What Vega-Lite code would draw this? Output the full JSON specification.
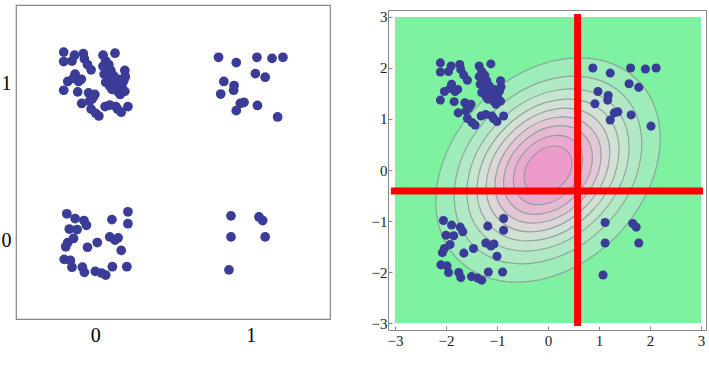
{
"$schema": "https://vega.github.io/schema/vega-lite/v6.json",
"background": "white",
"padding": {"left": 0, "top": 4, "right": 0, "bottom": 0},
"autosize": {"type": "pad"},
"config": {"view": {"stroke": null}, "axis": {"labelFont": "Liberation Serif", "grid": false}},
"spacing": 58,
"bounds": "flush",
"datasets": {
"left": [
{"x":-0.203,"y":1.200},{"x":-0.203,"y":1.140},{"x":-0.150,"y":1.143},{"x":-0.133,"y":1.180},{"x":-0.077,"y":1.190},{"x":-0.070,"y":1.157},{"x":-0.050,"y":1.120},{"x":-0.027,"y":1.087},{"x":0.050,"y":1.180},{"x":0.067,"y":1.143},{"x":0.087,"y":1.120},{"x":0.127,"y":1.193},{"x":0.080,"y":1.100},{"x":0.100,"y":1.083},{"x":0.190,"y":1.083},{"x":0.057,"y":1.060},{"x":0.093,"y":1.043},{"x":0.193,"y":1.043},{"x":0.183,"y":1.017},{"x":0.170,"y":0.983},{"x":-0.177,"y":1.013},{"x":-0.140,"y":1.033},{"x":-0.130,"y":1.060},{"x":-0.090,"y":1.027},{"x":-0.107,"y":1.013},{"x":0.067,"y":1.007},{"x":0.093,"y":0.983},{"x":0.117,"y":1.000},{"x":0.143,"y":0.977},{"x":-0.203,"y":0.957},{"x":-0.113,"y":0.947},{"x":-0.043,"y":0.940},{"x":-0.003,"y":0.930},{"x":-0.020,"y":0.903},{"x":0.143,"y":0.950},{"x":0.160,"y":0.930},{"x":0.190,"y":0.950},{"x":0.107,"y":0.963},{"x":-0.087,"y":0.873},{"x":-0.037,"y":0.887},{"x":-0.027,"y":0.837},{"x":0.003,"y":0.810},{"x":0.023,"y":0.793},{"x":0.063,"y":0.853},{"x":0.093,"y":0.863},{"x":0.133,"y":0.853},{"x":0.143,"y":0.837},{"x":0.167,"y":0.817},{"x":0.210,"y":0.853},{"x":0.050,"y":1.110},{"x":0.117,"y":1.050},{"x":0.150,"y":1.027},{"x":-0.013,"y":0.913},
{"x":-0.183,"y":0.170},{"x":-0.130,"y":0.140},{"x":-0.073,"y":0.127},{"x":-0.057,"y":0.097},{"x":0.107,"y":0.133},{"x":0.210,"y":0.183},{"x":0.210,"y":0.107},{"x":-0.167,"y":0.073},{"x":-0.117,"y":0.070},{"x":-0.140,"y":0.013},{"x":-0.177,"y":-0.013},{"x":-0.190,"y":-0.040},{"x":-0.050,"y":-0.043},{"x":0.013,"y":-0.013},{"x":0.093,"y":0.023},{"x":0.127,"y":0.003},{"x":0.147,"y":0.017},{"x":0.167,"y":-0.063},{"x":-0.200,"y":-0.120},{"x":-0.160,"y":-0.127},{"x":-0.150,"y":-0.170},{"x":-0.083,"y":-0.170},{"x":-0.070,"y":-0.203},{"x":0.000,"y":-0.197},{"x":0.040,"y":-0.207},{"x":0.067,"y":-0.220},{"x":0.110,"y":-0.167},{"x":0.203,"y":-0.167},
{"x":0.793,"y":1.167},{"x":0.907,"y":1.133},{"x":1.040,"y":1.167},{"x":1.137,"y":1.160},{"x":1.207,"y":1.167},{"x":1.030,"y":1.063},{"x":1.093,"y":1.040},{"x":0.827,"y":1.013},{"x":0.893,"y":0.987},{"x":0.890,"y":0.957},{"x":0.807,"y":0.933},{"x":0.933,"y":0.873},{"x":0.957,"y":0.880},{"x":1.043,"y":0.860},{"x":0.907,"y":0.827},{"x":1.173,"y":0.787},
{"x":0.873,"y":0.157},{"x":1.053,"y":0.150},{"x":1.077,"y":0.127},{"x":0.873,"y":0.023},{"x":1.093,"y":0.023},{"x":0.860,"y":-0.187}
],
"right": [
{"x":-2.11,"y":2.10},{"x":-2.11,"y":1.92},{"x":-1.95,"y":1.93},{"x":-1.90,"y":2.04},{"x":-1.73,"y":2.07},{"x":-1.71,"y":1.97},{"x":-1.65,"y":1.86},{"x":-1.58,"y":1.76},{"x":-1.35,"y":2.04},{"x":-1.30,"y":1.93},{"x":-1.24,"y":1.86},{"x":-1.12,"y":2.08},{"x":-1.26,"y":1.80},{"x":-1.20,"y":1.75},{"x":-0.93,"y":1.75},{"x":-1.33,"y":1.68},{"x":-1.22,"y":1.63},{"x":-0.92,"y":1.63},{"x":-0.95,"y":1.55},{"x":-0.99,"y":1.45},{"x":-2.03,"y":1.54},{"x":-1.92,"y":1.60},{"x":-1.89,"y":1.68},{"x":-1.77,"y":1.58},{"x":-1.82,"y":1.54},{"x":-1.30,"y":1.52},{"x":-1.22,"y":1.45},{"x":-1.15,"y":1.50},{"x":-1.07,"y":1.43},{"x":-2.11,"y":1.37},{"x":-1.84,"y":1.34},{"x":-1.63,"y":1.32},{"x":-1.51,"y":1.29},{"x":-1.56,"y":1.21},{"x":-1.07,"y":1.35},{"x":-1.02,"y":1.29},{"x":-0.93,"y":1.35},{"x":-1.18,"y":1.39},{"x":-1.76,"y":1.12},{"x":-1.61,"y":1.16},{"x":-1.58,"y":1.01},{"x":-1.49,"y":0.93},{"x":-1.43,"y":0.88},{"x":-1.31,"y":1.06},{"x":-1.22,"y":1.09},{"x":-1.10,"y":1.06},{"x":-1.07,"y":1.01},{"x":-1.00,"y":0.95},{"x":-0.87,"y":1.06},{"x":-1.35,"y":1.83},{"x":-1.15,"y":1.65},{"x":-1.05,"y":1.58},{"x":-1.54,"y":1.24},
{"x":-2.05,"y":-0.99},{"x":-1.89,"y":-1.08},{"x":-1.72,"y":-1.12},{"x":-1.67,"y":-1.21},{"x":-1.18,"y":-1.10},{"x":-0.87,"y":-0.95},{"x":-0.87,"y":-1.18},{"x":-2.00,"y":-1.28},{"x":-1.85,"y":-1.29},{"x":-1.92,"y":-1.46},{"x":-2.03,"y":-1.54},{"x":-2.07,"y":-1.62},{"x":-1.65,"y":-1.63},{"x":-1.46,"y":-1.54},{"x":-1.22,"y":-1.43},{"x":-1.12,"y":-1.49},{"x":-1.06,"y":-1.45},{"x":-1.00,"y":-1.69},{"x":-2.10,"y":-1.86},{"x":-1.98,"y":-1.88},{"x":-1.95,"y":-2.01},{"x":-1.75,"y":-2.01},{"x":-1.71,"y":-2.11},{"x":-1.50,"y":-2.09},{"x":-1.38,"y":-2.12},{"x":-1.30,"y":-2.16},{"x":-1.17,"y":-2.00},{"x":-0.89,"y":-2.00},
{"x":0.88,"y":2.00},{"x":1.22,"y":1.90},{"x":1.62,"y":2.00},{"x":1.91,"y":1.98},{"x":2.12,"y":2.00},{"x":1.59,"y":1.69},{"x":1.78,"y":1.62},{"x":0.98,"y":1.54},{"x":1.18,"y":1.46},{"x":1.17,"y":1.37},{"x":0.92,"y":1.30},{"x":1.30,"y":1.12},{"x":1.37,"y":1.14},{"x":1.63,"y":1.08},{"x":1.22,"y":0.98},{"x":2.02,"y":0.86},
{"x":1.12,"y":-1.03},{"x":1.66,"y":-1.05},{"x":1.73,"y":-1.12},{"x":1.12,"y":-1.43},{"x":1.78,"y":-1.43},{"x":1.08,"y":-2.06}
],
"levels": [
{"level":1,"r":2.2},{"level":2,"r":1.84},{"level":3,"r":1.59},{"level":4,"r":1.39},{"level":5,"r":1.21},{"level":6,"r":1.04},{"level":7,"r":0.87},{"level":8,"r":0.68},{"level":9,"r":0.47}
]
},
"hconcat": [
{
"width": 314, "height": 314,
"view": {"stroke": "#858585", "strokeWidth": 1.2},
"data": {"name": "left"},
"mark": {"type": "circle", "size": 95, "color": "#3b3b98", "opacity": 1},
"encoding": {
"x": {"field": "x", "type": "quantitative", "scale": {"domain": [-0.51, 1.51], "nice": false, "zero": false},
"axis": {"values": [0, 1], "format": "d", "title": null, "ticks": false, "domain": false, "labelFontSize": 20, "labelColor": "#000000", "labelPadding": 6}},
"y": {"field": "y", "type": "quantitative", "scale": {"domain": [-0.5, 1.5], "nice": false, "zero": false},
"axis": {"values": [0, 1], "format": "d", "title": null, "ticks": false, "domain": false, "labelFontSize": 20, "labelColor": "#000000", "labelPadding": 5}}
}
},
{
"width": 318, "height": 325,
"layer": [
{
"data": {"values": [{}]},
"mark": {"type": "rect", "fill": "#7ef2a1"},
"encoding": {
"x": {"datum": -3, "type": "quantitative", "scale": {"domain": [-3.137, 3.098], "nice": false, "zero": false},
"axis": {"values": [-3, -2, -1, 0, 1, 2, 3], "format": "d", "title": null, "domainColor": "#8a8a8a", "tickColor": "#8a8a8a", "tickSize": -4, "labelFontSize": 15, "labelColor": "#222222", "labelPadding": 7}},
"x2": {"datum": 3},
"y": {"datum": -3, "type": "quantitative", "scale": {"domain": [-3.137, 3.137], "range": [325, 5], "nice": false, "zero": false},
"axis": {"values": [-3, -2, -1, 0, 1, 2, 3], "format": "d", "title": null, "domainColor": "#8a8a8a", "tickColor": "#8a8a8a", "tickSize": -4, "labelFontSize": 15, "labelColor": "#222222", "labelPadding": 5}},
"y2": {"datum": 3}
}
},
{
"data": {"name": "levels"},
"mark": {"type": "point", "shape": "M -0.8 0.8 A 1.1314 0.8485 -45 0 1 -0.6 -0.6 A 1.1314 0.8485 -45 0 1 0.8 -0.8 A 1.1314 0.8485 -45 0 1 0.6 0.6 A 1.1314 0.8485 -45 0 1 -0.8 0.8 Z", "filled": true, "opacity": 1, "stroke": "#8a9a93", "strokeWidth": 1.2, "strokeOpacity": 0.85},
"encoding": {
"x": {"datum": 0, "type": "quantitative", "axis": null},
"y": {"datum": 0, "type": "quantitative", "axis": null},
"size": {"field": "r", "type": "quantitative", "scale": {"type": "pow", "exponent": 2, "domain": [0, 2.2], "range": [0, 50355]}, "legend": null},
"fill": {"field": "level", "type": "ordinal", "scale": {"domain": [1,2,3,4,5,6,7,8,9], "range": ["#9eecb9", "#b2e9c5", "#c4e6ce", "#d3e1d5", "#ddd6d8", "#e3c7d6", "#e7b8d2", "#eaa9ce", "#ec9bca"]}, "legend": null}
}
},
{
"data": {"name": "right"},
"mark": {"type": "circle", "size": 82, "color": "#3b3b98", "opacity": 1},
"encoding": {
"x": {"field": "x", "type": "quantitative", "axis": {"orient": "top", "offset": -5, "labels": false, "ticks": false, "title": null, "domainColor": "#8a8a8a"}},
"y": {"field": "y", "type": "quantitative", "axis": {"orient": "right", "labels": false, "ticks": false, "title": null, "domainColor": "#8a8a8a"}}
}
},
{
"data": {"values": [{}]},
"mark": {"type": "rule", "color": "#ff0000", "strokeWidth": 7, "strokeCap": "butt"},
"encoding": {
"x": {"datum": 0.58, "type": "quantitative", "axis": null},
"y": {"datum": -3.06, "type": "quantitative", "axis": null},
"y2": {"datum": 3.06}
}
},
{
"data": {"values": [{}]},
"mark": {"type": "rule", "color": "#ff0000", "strokeWidth": 7, "strokeCap": "butt"},
"encoding": {
"x": {"datum": -3.08, "type": "quantitative", "axis": null},
"x2": {"datum": 3.04},
"y": {"datum": -0.41, "type": "quantitative", "axis": null}
}
}
],
"resolve": {"axis": {"x": "independent", "y": "independent"}}
}
]
}
